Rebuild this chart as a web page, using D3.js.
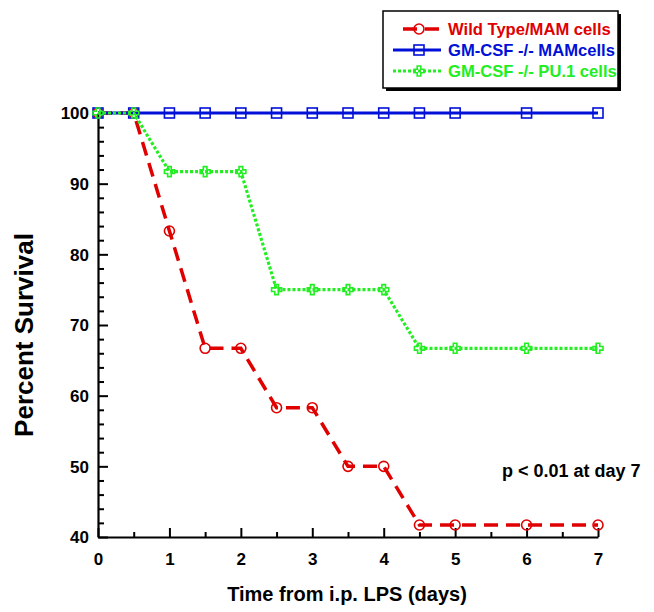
<!DOCTYPE html>
<html><head><meta charset="utf-8">
<script src="https://cdn.jsdelivr.net/npm/d3@7"></script>
<style>body{margin:0;background:#fff}svg{display:block}text{font-family:"Liberation Sans",Arial,sans-serif;font-weight:bold}</style>
</head><body>
<script>
const days = [0, 0.5, 1, 1.5, 2, 2.5, 3, 3.5, 4, 4.5, 5, 6, 7];
const wildType = [100, 100, 83.3, 66.7, 66.7, 58.3, 58.3, 50, 50, 41.7, 41.7, 41.7, 41.7];
const gmcsfMam = [100, 100, 100, 100, 100, 100, 100, 100, 100, 100, 100, 100, 100];
const gmcsfPu1 = [100, 100, 91.7, 91.7, 91.7, 75, 75, 75, 75, 66.7, 66.7, 66.7, 66.7];
const seriesNames = ["Wild Type/MAM cells", "GM-CSF -/- MAMcells", "GM-CSF -/- PU.1 cells"];
const xTicks = [0, 1, 2, 3, 4, 5, 6, 7];
const yTicks = [40, 50, 60, 70, 80, 90, 100];

const W = 654, H = 612;
const svg = d3.select("body").append("svg").attr("width", W).attr("height", H);
const x = d3.scaleLinear().domain([0, 7]).range([98, 598]);
const y = d3.scaleLinear().domain([40, 100]).range([537, 113]);

// axes
const xMinor = d3.range(0.5, 7, 1);
const yMinor = d3.range(40, 101, 2).filter(v => v % 10 !== 0);
const gx = svg.append("g").attr("transform", `translate(0,${y(40)})`);
gx.call(d3.axisBottom(x).tickValues(xTicks).tickFormat(d3.format("d")).tickSizeInner(-9).tickSizeOuter(0).tickPadding(16));
gx.append("g").call(d3.axisBottom(x).tickValues(xMinor).tickFormat("").tickSizeInner(-5).tickSizeOuter(0)).select(".domain").remove();
const gy = svg.append("g").attr("transform", `translate(${x(0)},0)`);
gy.call(d3.axisLeft(y).tickValues(yTicks).tickFormat(d3.format("d")).tickSizeInner(-10).tickSizeOuter(0).tickPadding(9));
gy.append("g").call(d3.axisLeft(y).tickValues(yMinor).tickFormat("").tickSizeInner(-6).tickSizeOuter(0)).select(".domain").remove();
svg.selectAll(".domain").attr("stroke", "#000").attr("stroke-width", 2.2);
svg.selectAll(".tick line").attr("stroke", "#000").attr("stroke-width", 2);
svg.selectAll(".tick text").attr("font-size", 17).attr("font-family", "Liberation Sans, Arial").attr("font-weight", "bold").attr("fill", "#000");
gy.selectAll(".tick text").attr("dy", "0.35em");

// titles
svg.append("text").attr("x", 347).attr("y", 601).attr("text-anchor", "middle").attr("font-size", 20).text("Time from i.p. LPS (days)");
svg.append("text").attr("transform", "translate(33,335) rotate(-90)").attr("text-anchor", "middle").attr("font-size", 26).text("Percent Survival");
svg.append("text").attr("x", 502).attr("y", 477).attr("font-size", 18).text("p < 0.01 at day 7");

const styles = [
  {vals: wildType, color: "#e00000", dash: "14,8", width: 3.5, marker: "circle"},
  {vals: gmcsfMam, color: "#0010d8", dash: null, width: 3, marker: "square"},
  {vals: gmcsfPu1, color: "#22ee22", dash: "3,2", width: 3.2, marker: "cross"}
];
const crossPath = "M-1.8,-5H1.8V-1.8H5V1.8H1.8V5H-1.8V1.8H-5V-1.8H-1.8Z";
function drawMarker(g, kind, color, cx, cy) {
  if (kind === "circle") g.append("circle").attr("cx", cx).attr("cy", cy).attr("r", 5).attr("fill", "none").attr("stroke", color).attr("stroke-width", 1.6);
  else if (kind === "square") g.append("rect").attr("x", cx - 5).attr("y", cy - 5).attr("width", 10).attr("height", 10).attr("fill", "none").attr("stroke", color).attr("stroke-width", 1.6);
  else g.append("path").attr("d", crossPath).attr("transform", `translate(${cx},${cy})`).attr("fill", "none").attr("stroke", color).attr("stroke-width", 1.6);
}
const line = d3.line().x(d => x(d[0])).y(d => y(d[1]));
styles.forEach(s => {
  const pts = days.map((d, i) => [d, s.vals[i]]);
  const g = svg.append("g");
  g.append("path").attr("d", line(pts)).attr("fill", "none").attr("stroke", s.color).attr("stroke-width", s.width).attr("stroke-dasharray", s.dash);
  pts.forEach(p => drawMarker(g, s.marker, s.color, x(p[0]), y(p[1])));
});

// legend
const lg = svg.append("g");
lg.append("rect").attr("x", 386).attr("y", 14).attr("width", 235).attr("height", 77).attr("fill", "#000");
lg.append("rect").attr("x", 383).attr("y", 11).attr("width", 235).attr("height", 77).attr("fill", "#fff").attr("stroke", "#000").attr("stroke-width", 1.5);
const legRows = [29, 50, 71];
const legStart = [403, 393, 393];
styles.forEach((s, i) => {
  const ly = legRows[i];
  lg.append("line").attr("x1", legStart[i]).attr("x2", 441).attr("y1", ly).attr("y2", ly).attr("stroke", s.color).attr("stroke-width", s.width).attr("stroke-dasharray", s.dash);
  drawMarker(lg, s.marker, s.color, 419, ly);
  lg.append("text").attr("x", 448).attr("y", ly + 6).attr("font-size", 16.6).attr("fill", s.color).text(seriesNames[i]);
});
</script>
</body></html>
